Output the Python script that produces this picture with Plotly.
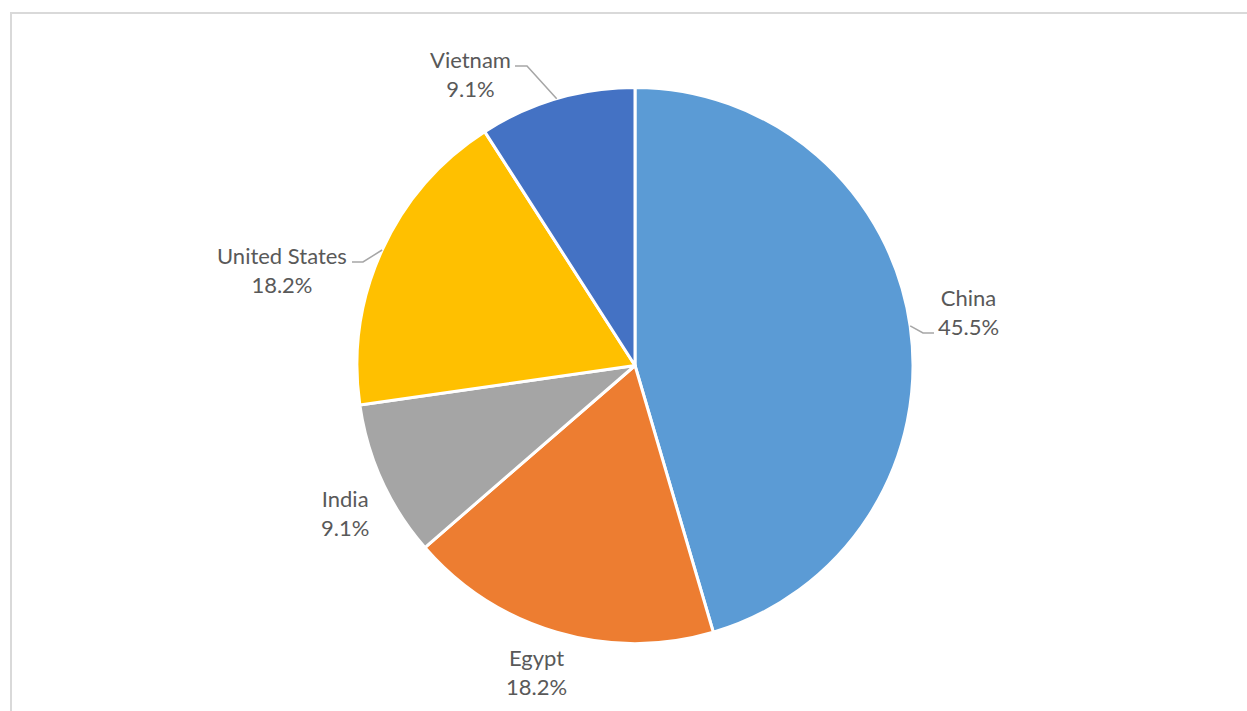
import math
import plotly.graph_objects as go

# Share of entries by country
countries = ["China", "Egypt", "India", "United States", "Vietnam"]
counts = [5, 2, 1, 2, 1]
colors = ["#5B9BD5", "#ED7D31", "#A5A5A5", "#FFC000", "#4472C4"]

W, H = 1247, 711
CX, CY, R = 635, 365.5, 278  # pie centre and radius in pixels

# Data-label placement (pixel centre of the two-line label block)
label_pos = {
    "China": (968, 312),
    "Egypt": (536, 672),
    "India": (345, 513),
    "United States": (282, 270),
    "Vietnam": (470, 74),
}
# Horizontal stub of the leader line next to the label: (x_label_side, x_pie_side, y)
leader_stub = {
    "China": (934, 923, 333),
    "United States": (352, 363, 262),
    "Vietnam": (515, 527, 66),
}

total = sum(counts)
fig = go.Figure()
fig.add_trace(go.Pie(
    labels=countries,
    values=counts,
    marker=dict(colors=colors, line=dict(color="white", width=3)),
    sort=False,
    direction="clockwise",
    rotation=0,
    textinfo="none",
    hoverinfo="label+percent",
    showlegend=False,
    domain=dict(x=[(CX - R) / W, (CX + R) / W], y=[(H - CY - R) / H, (H - CY + R) / H]),
))

font = dict(family="Lato, Calibri, sans-serif", size=22, color="#595959")
annotations = []
shapes = []
cum = 0
for name, v in zip(countries, counts):
    share = v / total
    mid = (cum + share / 2) * 2 * math.pi  # clockwise from 12 o'clock
    cum += share
    lx, ly = label_pos[name]
    annotations.append(dict(
        x=lx, y=ly, xref="x", yref="y",
        text=f"{name}<br>{share * 100:.1f}%",
        showarrow=False, font=font, align="center",
        xanchor="center", yanchor="middle",
    ))
    if name in leader_stub:
        x0, x1, y = leader_stub[name]
        ex = CX + R * math.sin(mid)
        ey = CY - R * math.cos(mid)
        shapes.append(dict(
            type="path", xref="x", yref="y",
            path=f"M {x0},{y} L {x1},{y} L {ex:.1f},{ey:.1f}",
            line=dict(color="#A6A6A6", width=1.5),
        ))

# Chart-area border
shapes.append(dict(
    type="rect", xref="x", yref="y", x0=11, y0=13, x1=W + 5, y1=H + 5,
    line=dict(color="#D9D9D9", width=2), fillcolor="rgba(0,0,0,0)", layer="below",
))

fig.update_layout(
    width=W, height=H,
    margin=dict(l=0, r=0, t=0, b=0),
    paper_bgcolor="white", plot_bgcolor="rgba(0,0,0,0)",
    xaxis=dict(range=[0, W], visible=False, fixedrange=True),
    yaxis=dict(range=[H, 0], visible=False, fixedrange=True),
    annotations=annotations,
    shapes=shapes,
)

fig.write_html("out.html")
